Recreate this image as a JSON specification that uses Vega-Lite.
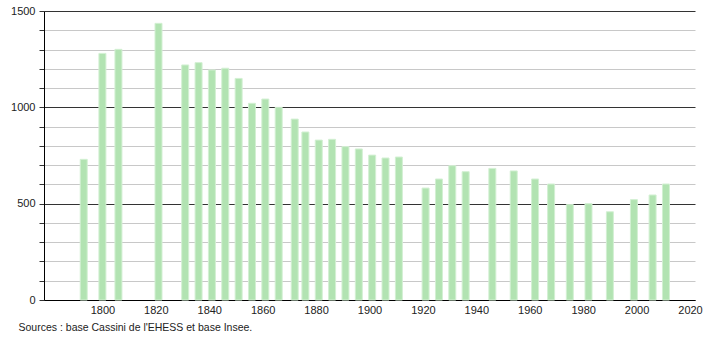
{
  "$schema": "https://vega.github.io/schema/vega-lite/v6.json",
  "width": 651,
  "height": 289,
  "autosize": {"type": "none"},
  "padding": {"left": 44, "top": 11, "right": 15, "bottom": 40},
  "background": "white",
  "config": {
    "view": {"stroke": null},
    "font": "Liberation Sans",
    "axis": {"labelFont": "Liberation Sans", "labelFontSize": 11, "labelColor": "#222"}
  },
  "title": {
    "text": "Sources : base Cassini de l'EHESS et base Insee.",
    "orient": "bottom",
    "anchor": "start",
    "dx": 8,
    "offset": 8,
    "fontSize": 10.5,
    "fontWeight": "normal",
    "color": "#222",
    "font": "Liberation Sans"
  },
  "data": {
    "values": [
      {"annee": 1793, "pop": 730},
      {"annee": 1800, "pop": 1280},
      {"annee": 1806, "pop": 1301},
      {"annee": 1821, "pop": 1436},
      {"annee": 1831, "pop": 1220},
      {"annee": 1836, "pop": 1232},
      {"annee": 1841, "pop": 1194},
      {"annee": 1846, "pop": 1203},
      {"annee": 1851, "pop": 1150},
      {"annee": 1856, "pop": 1021},
      {"annee": 1861, "pop": 1043},
      {"annee": 1866, "pop": 1000},
      {"annee": 1872, "pop": 939},
      {"annee": 1876, "pop": 872},
      {"annee": 1881, "pop": 830},
      {"annee": 1886, "pop": 834},
      {"annee": 1891, "pop": 796},
      {"annee": 1896, "pop": 784},
      {"annee": 1901, "pop": 752},
      {"annee": 1906, "pop": 737},
      {"annee": 1911, "pop": 742},
      {"annee": 1921, "pop": 581},
      {"annee": 1926, "pop": 628},
      {"annee": 1931, "pop": 697},
      {"annee": 1936, "pop": 666},
      {"annee": 1946, "pop": 683},
      {"annee": 1954, "pop": 670},
      {"annee": 1962, "pop": 628},
      {"annee": 1968, "pop": 602},
      {"annee": 1975, "pop": 495},
      {"annee": 1982, "pop": 500},
      {"annee": 1990, "pop": 458},
      {"annee": 1999, "pop": 521},
      {"annee": 2006, "pop": 545},
      {"annee": 2011, "pop": 602}
    ]
  },
  "mark": {"type": "bar", "size": 7, "color": "#b2e3b2", "stroke": "#d3f0d3", "strokeWidth": 1},
  "encoding": {
    "x": {
      "field": "annee",
      "type": "quantitative",
      "scale": {"domain": [1780, 2020], "nice": false, "zero": false},
      "axis": {
        "title": null,
        "values": [1800, 1820, 1840, 1860, 1880, 1900, 1920, 1940, 1960, 1980, 2000, 2020],
        "format": "d",
        "ticks": false,
        "grid": false,
        "domainColor": "#000",
        "labelPadding": 4,
        "labelFlush": false
      }
    },
    "y": {
      "field": "pop",
      "type": "quantitative",
      "scale": {"domain": [0, 1500], "nice": false},
      "axis": {
        "title": null,
        "values": [0, 100, 200, 300, 400, 500, 600, 700, 800, 900, 1000, 1100, 1200, 1300, 1400, 1500],
        "labelExpr": "datum.value % 500 === 0 ? datum.label : ''",
        "format": "d",
        "grid": true,
        "gridColor": {"condition": {"test": "datum.value % 500 === 0", "value": "#333333"}, "value": "#c8c8c8"},
        "gridWidth": 1,
        "tickSize": 5,
        "tickColor": "#333",
        "domainColor": "#000",
        "labelPadding": 4
      }
    }
  }
}
